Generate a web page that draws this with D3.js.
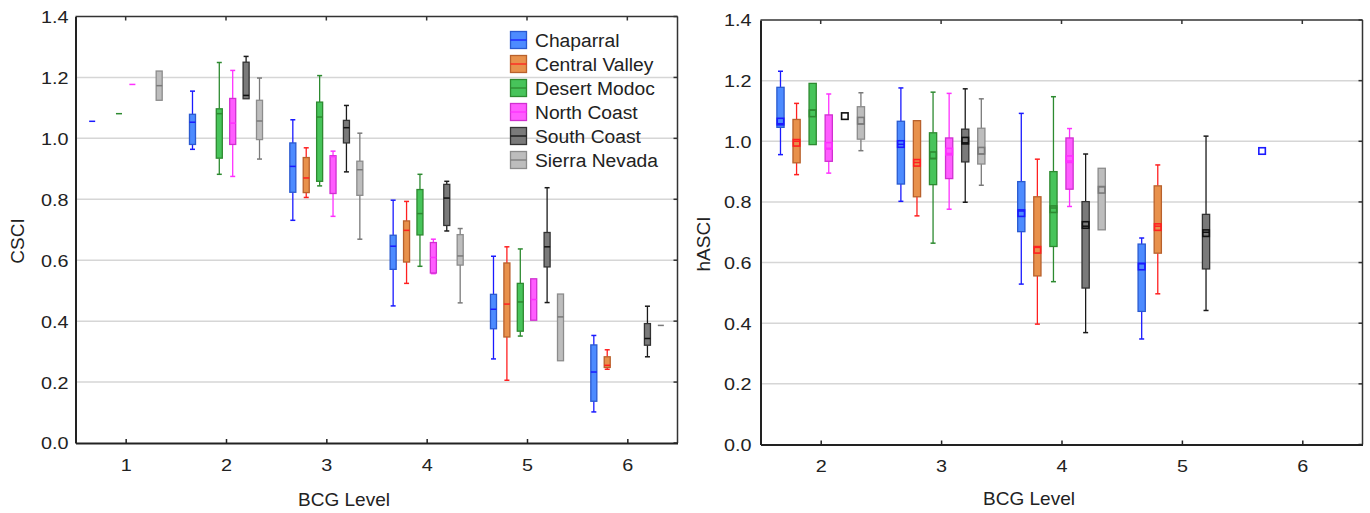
<!DOCTYPE html>
<html>
<head>
<meta charset="utf-8">
<script src="https://cdn.jsdelivr.net/npm/d3@7"></script>
<style>
  body { margin: 0; background: #fff; }
  text { font-family: "Liberation Sans", Arial, sans-serif; fill: #222; }
</style>
</head>
<body>
<div id="chart"></div>
<script>
// regions in plotting order
var regions = ["Chaparral", "Central Valley", "Desert Modoc", "North Coast", "South Coast", "Sierra Nevada"];
var levelTicksLeft = [1, 2, 3, 4, 5, 6];
var levelTicksRight = [2, 3, 4, 5, 6];
var yTicks = [0, 0.2, 0.4, 0.6, 0.8, 1.0, 1.2, 1.4];

// CSCI: region, level, low whisker, q1, median, q3, high whisker
var csciRows = [
    ["Chaparral", 1, 1.056, 1.056, 1.056, 1.056, 1.056],
    ["Chaparral", 2, 0.964, 0.980, 1.053, 1.079, 1.155],
    ["Chaparral", 3, 0.731, 0.823, 0.908, 0.985, 1.061],
    ["Chaparral", 4, 0.450, 0.570, 0.646, 0.682, 0.797],
    ["Chaparral", 5, 0.276, 0.375, 0.439, 0.488, 0.613],
    ["Chaparral", 6, 0.102, 0.137, 0.233, 0.322, 0.353],
    ["Central Valley", 3, 0.806, 0.822, 0.870, 0.937, 0.969],
    ["Central Valley", 4, 0.524, 0.594, 0.698, 0.729, 0.793],
    ["Central Valley", 5, 0.206, 0.348, 0.456, 0.591, 0.644],
    ["Central Valley", 6, 0.242, 0.248, 0.255, 0.283, 0.306],
    ["Desert Modoc", 1, 1.081, 1.081, 1.081, 1.081, 1.081],
    ["Desert Modoc", 2, 0.882, 0.935, 1.081, 1.097, 1.249],
    ["Desert Modoc", 3, 0.844, 0.859, 1.070, 1.119, 1.206],
    ["Desert Modoc", 4, 0.580, 0.683, 0.753, 0.832, 0.882],
    ["Desert Modoc", 5, 0.351, 0.367, 0.463, 0.524, 0.637],
    ["North Coast", 1, 1.177, 1.177, 1.177, 1.177, 1.177],
    ["North Coast", 2, 0.875, 0.980, 1.050, 1.131, 1.223],
    ["North Coast", 3, 0.744, 0.819, 0.940, 0.943, 0.958],
    ["North Coast", 4, 0.556, 0.558, 0.609, 0.658, 0.669],
    ["North Coast", 5, 0.403, 0.403, 0.471, 0.539, 0.539],
    ["South Coast", 2, 1.130, 1.130, 1.141, 1.250, 1.269],
    ["South Coast", 3, 0.890, 0.985, 1.035, 1.059, 1.108],
    ["South Coast", 4, 0.696, 0.714, 0.804, 0.849, 0.859],
    ["South Coast", 5, 0.461, 0.578, 0.644, 0.691, 0.838],
    ["South Coast", 6, 0.283, 0.321, 0.343, 0.392, 0.449],
    ["Sierra Nevada", 1, 1.125, 1.125, 1.173, 1.221, 1.221],
    ["Sierra Nevada", 2, 0.932, 0.996, 1.057, 1.125, 1.198],
    ["Sierra Nevada", 3, 0.669, 0.813, 0.897, 0.925, 1.017],
    ["Sierra Nevada", 4, 0.460, 0.584, 0.614, 0.684, 0.704],
    ["Sierra Nevada", 5, 0.270, 0.270, 0.414, 0.489, 0.489],
    ["Sierra Nevada", 6, 0.386, 0.386, 0.386, 0.386, 0.386]
];

// hASCI: region, level, low whisker, q1, median, q3, high whisker, mean
var hasciRows = [
    ["Chaparral", 2, 0.956, 1.046, 1.058, 1.178, 1.231, 1.065],
    ["Chaparral", 3, 0.802, 0.859, 0.990, 1.066, 1.176, 0.991],
    ["Chaparral", 4, 0.529, 0.702, 0.770, 0.867, 1.092, 0.763],
    ["Chaparral", 5, 0.348, 0.439, 0.596, 0.661, 0.681, 0.587],
    ["Chaparral", 6, 0.968, 0.968, 0.968, 0.968, 0.968, 0.968],
    ["Central Valley", 2, 0.890, 0.929, 1.000, 1.072, 1.125, 0.995],
    ["Central Valley", 3, 0.754, 0.817, 0.930, 1.068, 1.068, 0.929],
    ["Central Valley", 4, 0.397, 0.556, 0.650, 0.817, 0.941, 0.642],
    ["Central Valley", 5, 0.497, 0.631, 0.720, 0.853, 0.922, 0.717],
    ["Desert Modoc", 2, 0.989, 0.989, 1.103, 1.191, 1.191, 1.092],
    ["Desert Modoc", 3, 0.664, 0.857, 0.943, 1.028, 1.162, 0.954],
    ["Desert Modoc", 4, 0.537, 0.653, 0.780, 0.900, 1.147, 0.776],
    ["North Coast", 2, 0.895, 0.934, 0.977, 1.087, 1.156, 0.985],
    ["North Coast", 3, 0.776, 0.877, 0.960, 1.011, 1.158, 0.966],
    ["North Coast", 4, 0.785, 0.842, 0.935, 1.011, 1.042, 0.941],
    ["South Coast", 2, 1.083, 1.083, 1.083, 1.083, 1.083, 1.083],
    ["South Coast", 3, 0.799, 0.932, 0.995, 1.040, 1.173, 1.002],
    ["South Coast", 4, 0.369, 0.516, 0.720, 0.801, 0.958, 0.724],
    ["South Coast", 5, 0.442, 0.579, 0.700, 0.759, 1.017, 0.697],
    ["Sierra Nevada", 2, 0.969, 1.007, 1.057, 1.114, 1.160, 1.068],
    ["Sierra Nevada", 3, 0.855, 0.925, 0.958, 1.043, 1.140, 0.969],
    ["Sierra Nevada", 4, 0.708, 0.708, 0.850, 0.911, 0.911, 0.840]
];

// styling per region
var boxFill = ["#4d8bff", "#e8914c", "#47c45a", "#ff5cff", "#7a7a7a", "#bdbdbd"];
var boxStroke = ["#2a5ad0", "#b8612c", "#2d8a30", "#d030d0", "#333333", "#8c8c8c"];
var lineColor = ["#1a1aff", "#ff2020", "#2d8a30", "#ff30ff", "#1a1a1a", "#7a7a7a"];

var W = 1370, H = 513;
var svg = d3.select("#chart").append("svg")
    .attr("width", W)
    .attr("height", H);

var spacing = 0.1336; // offset between regions within a level
var tickStretch = 1.2; // tick labels in the original are a bit wide

function drawPanel(opt) {
    var x = d3.scaleLinear().domain(opt.xDomain).range([opt.left, opt.right]);
    var y = d3.scaleLinear().domain([0, 1.4]).range([opt.bottom, opt.top]);
    var g = svg.append("g");

    // gridlines
    g.selectAll(".grid")
        .data(yTicks.filter(function(d) { return d > 0 && d < 1.4; }))
        .enter()
        .append("line")
        .attr("x1", opt.left).attr("x2", opt.right)
        .attr("y1", function(d) { return y(d); })
        .attr("y2", function(d) { return y(d); })
        .style("stroke", "#d6d6d6")
        .style("stroke-width", 1.5);

    // frame (top, right)
    g.append("line").attr("x1", opt.left).attr("x2", opt.right)
        .attr("y1", opt.top).attr("y2", opt.top)
        .style("stroke", "#333").style("stroke-width", 1.5);
    g.append("line").attr("x1", opt.right).attr("x2", opt.right)
        .attr("y1", opt.top).attr("y2", opt.bottom)
        .style("stroke", "#333").style("stroke-width", 1.5);

    // inward ticks on top and right
    g.selectAll(".ttick").data(opt.xTicks).enter().append("line")
        .attr("x1", function(d) { return x(d); }).attr("x2", function(d) { return x(d); })
        .attr("y1", opt.top).attr("y2", opt.top + 4)
        .style("stroke", "#333").style("stroke-width", 1.5);
    g.selectAll(".rtick").data(yTicks).enter().append("line")
        .attr("x1", opt.right - 4).attr("x2", opt.right)
        .attr("y1", function(d) { return y(d); }).attr("y2", function(d) { return y(d); })
        .style("stroke", "#333").style("stroke-width", 1.5);

    // axes
    var xAxis = g.append("g")
        .attr("transform", "translate(0," + opt.bottom + ")")
        .call(d3.axisBottom(x).tickValues(opt.xTicks).tickFormat(d3.format("d"))
            .tickSizeInner(-4).tickSizeOuter(0).tickPadding(16));
    var yAxis = g.append("g")
        .attr("transform", "translate(" + opt.left + ",0)")
        .call(d3.axisLeft(y).tickValues(yTicks).tickFormat(d3.format(".1f"))
            .tickSizeInner(0).tickSizeOuter(0).tickPadding(opt.yPad));
    [xAxis, yAxis].forEach(function(a) {
        a.select(".domain").style("stroke", "#222").style("stroke-width", 2);
        a.selectAll(".tick line").style("stroke", "#222").style("stroke-width", 1.5);
        a.selectAll(".tick text").style("font-size", "16.5px").style("fill", "#222")
            .style("font-family", "'Liberation Sans', Arial, sans-serif");
    });
    xAxis.selectAll(".tick text")
        .attr("transform", "scale(" + tickStretch + ",1)");
    yAxis.selectAll(".tick text")
        .attr("x", 0)
        .attr("dy", "0.36em")
        .attr("transform", "translate(" + (-opt.yPad) + ",0) scale(" + tickStretch + ",1)");

    // axis titles
    g.append("text")
        .attr("transform", "translate(" + opt.yLabelX + "," + opt.yLabelY + ") rotate(-90)")
        .style("text-anchor", "middle")
        .style("font-size", "19px")
        .text(opt.yLabel);
    g.append("text")
        .attr("x", opt.xLabelX).attr("y", opt.xLabelY)
        .style("text-anchor", "middle")
        .style("font-size", "19px")
        .text("BCG Level");

    // boxes
    var bw = x(opt.xDomain[0] + 0.06) - x(opt.xDomain[0]);
    opt.rows.forEach(function(r) {
        var ri = regions.indexOf(r[0]);
        var cx = x(r[1] + (ri - 2.5) * spacing);
        var lo = r[2], q1 = r[3], med = r[4], q3 = r[5], hi = r[6];
        var bg = g.append("g");
        var single = (lo === hi);
        if (single && r.length < 8) {
            bg.append("line")
                .attr("x1", cx - bw / 2).attr("x2", cx + bw / 2)
                .attr("y1", y(med)).attr("y2", y(med))
                .style("stroke", lineColor[ri]).style("stroke-width", 1.5);
            return;
        }
        if (!single) {
            // whiskers
            [[hi, q3], [lo, q1]].forEach(function(w) {
                if (Math.abs(y(w[0]) - y(w[1])) < 0.5) return;
                bg.append("line")
                    .attr("x1", cx).attr("x2", cx)
                    .attr("y1", y(w[0])).attr("y2", y(w[1]))
                    .style("stroke", lineColor[ri]).style("stroke-width", 1.3);
                bg.append("line")
                    .attr("x1", cx - 2.5).attr("x2", cx + 2.5)
                    .attr("y1", y(w[0])).attr("y2", y(w[0]))
                    .style("stroke", lineColor[ri]).style("stroke-width", 1.5);
            });
            bg.append("rect")
                .attr("x", cx - bw / 2)
                .attr("y", y(q3))
                .attr("width", bw)
                .attr("height", Math.max(1, y(q1) - y(q3)))
                .style("fill", boxFill[ri])
                .style("stroke", boxStroke[ri])
                .style("stroke-width", 1.3);
            bg.append("line")
                .attr("x1", cx - bw / 2).attr("x2", cx + bw / 2)
                .attr("y1", y(med)).attr("y2", y(med))
                .style("stroke", ri === 4 ? "#111" : lineColor[ri])
                .style("stroke-width", 1.5);
        }
        if (r.length === 8) {
            var s = 6.5;
            bg.append("rect")
                .attr("x", cx - s / 2).attr("y", y(r[7]) - s / 2)
                .attr("width", s).attr("height", s)
                .style("fill", "none")
                .style("stroke", ri === 4 ? "#111" : lineColor[ri])
                .style("stroke-width", 1.6);
        }
    });
    return { x: x, y: y };
}

drawPanel({
    rows: csciRows, xDomain: [0.5, 6.5], xTicks: levelTicksLeft,
    left: 75.5, right: 677.5, top: 16.5, bottom: 443,
    yPad: 7, yLabel: "CSCI", yLabelX: 24, yLabelY: 241,
    xLabelX: 344, xLabelY: 506
});
drawPanel({
    rows: hasciRows, xDomain: [1.5, 6.5], xTicks: levelTicksRight,
    left: 760.5, right: 1362.5, top: 20, bottom: 444.5,
    yPad: 9, yLabel: "hASCI", yLabelX: 710, yLabelY: 244,
    xLabelX: 1029, xLabelY: 505
});

// legend (left panel)
var legend = svg.append("g").attr("transform", "translate(510,31)");
regions.forEach(function(name, i) {
    var row = legend.append("g").attr("transform", "translate(0," + (i * 24) + ")");
    row.append("rect")
        .attr("x", 0.5).attr("y", 0.5)
        .attr("width", 16).attr("height", 17)
        .style("fill", boxFill[i])
        .style("stroke", boxStroke[i])
        .style("stroke-width", 1.3);
    row.append("line")
        .attr("x1", 0.5).attr("x2", 16.5)
        .attr("y1", 9).attr("y2", 9)
        .style("stroke", i === 4 ? "#111" : lineColor[i])
        .style("stroke-width", 1.3);
    row.append("text")
        .attr("transform", "translate(25,16) scale(1.07,1)")
        .style("font-size", "18px")
        .text(name);
});
</script>
</body>
</html>
